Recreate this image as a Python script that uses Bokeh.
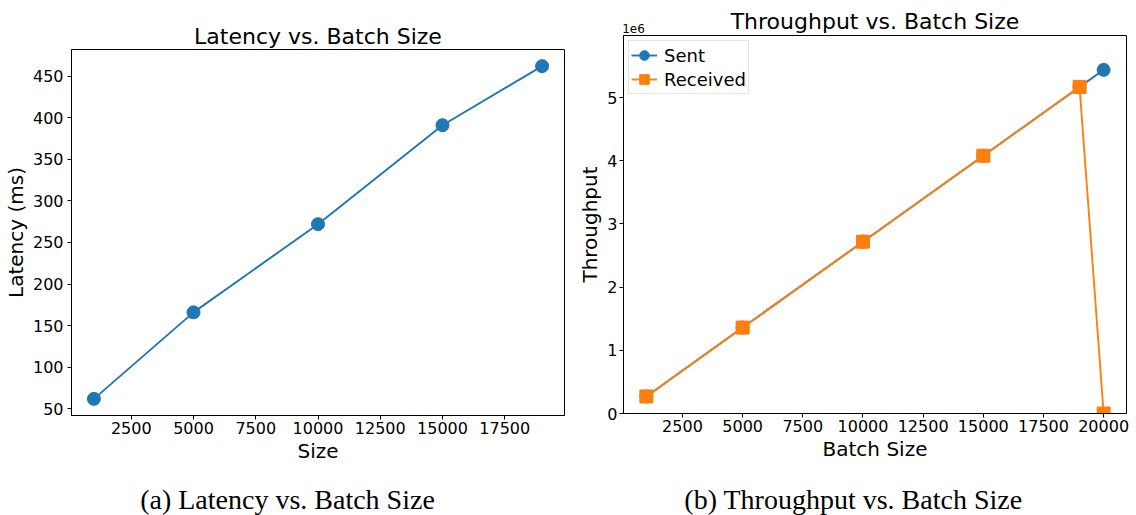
from bokeh.plotting import figure
from bokeh.models import FixedTicker, Range1d, Label, LinearAxis
from bokeh.layouts import row, column
from bokeh.embed import file_html
from bokeh.resources import INLINE

# ---- data ----
lat_sizes = [1000, 5000, 10000, 15000, 19000]
latency_ms = [62, 166, 272, 391, 462]
lat_xticks = [2500, 5000, 7500, 10000, 12500, 15000, 17500]
lat_yticks = [50, 100, 150, 200, 250, 300, 350, 400, 450]

tp_sizes = [1000, 5000, 10000, 15000, 19000, 20000]
sent = [0.27e6, 1.36e6, 2.72e6, 4.08e6, 5.17e6, 5.44e6]
received = [0.27e6, 1.36e6, 2.72e6, 4.08e6, 5.17e6, 0.0]
tp_xticks = [2500, 5000, 7500, 10000, 12500, 15000, 17500, 20000]
tp_yticks = [0, 1e6, 2e6, 3e6, 4e6, 5e6]
tp_ylabels = ["0", "1", "2", "3", "4", "5"]

captions = ["(a) Latency vs. Batch Size", "(b) Throughput vs. Batch Size"]

BLUE = "#1f77b4"
ORANGE = "#ff7f0e"
FONT = "DejaVu Sans"


def pad(vals, frac=0.05):
    lo, hi = min(vals), max(vals)
    d = (hi - lo) * frac
    return lo - d, hi + d


def style_axis(ax, label_standoff=3, axis_label_standoff=2):
    ax.major_tick_out = 4
    ax.major_tick_in = 0
    ax.minor_tick_out = 0
    ax.minor_tick_in = 0
    ax.major_tick_line_color = "black"
    ax.axis_line_color = "black"
    ax.major_label_text_font = FONT
    ax.major_label_text_font_size = "16px"
    ax.major_label_text_color = "black"
    ax.major_label_standoff = label_standoff
    ax.axis_label_text_font = FONT
    ax.axis_label_text_font_size = "20px"
    ax.axis_label_text_font_style = "normal"
    ax.axis_label_text_color = "black"
    ax.axis_label_standoff = axis_label_standoff


def style(p, ytick_standoff, ylab_standoff):
    p.outline_line_color = "black"
    p.outline_line_width = 1
    p.xgrid.visible = False
    p.ygrid.visible = False
    p.background_fill_color = "white"
    p.border_fill_color = "white"
    style_axis(p.xaxis[0], 2, 2)
    style_axis(p.yaxis[0], ytick_standoff, ylab_standoff)


# ---- left: latency ----
x0, x1 = pad(lat_sizes)
y0, y1 = pad(latency_ms)
p1 = figure(width=575, height=465, output_backend="svg", toolbar_location=None,
            x_range=Range1d(x0, x1), y_range=Range1d(y0, y1),
            title="Latency vs. Batch Size", x_axis_label="Size",
            y_axis_label="Latency (ms)")
p1.min_border_left = 70
p1.min_border_right = 11
p1.min_border_top = 49
p1.min_border_bottom = 49
style(p1, 4, 2)
p1.title.text_font = FONT
p1.title.text_font_size = "22px"
p1.title.text_font_style = "normal"
p1.title.text_color = "black"
p1.title.align = "center"
p1.title.standoff = 1
p1.xaxis[0].ticker = FixedTicker(ticks=lat_xticks)
p1.yaxis[0].ticker = FixedTicker(ticks=lat_yticks)
p1.line(lat_sizes, latency_ms, line_color=BLUE, line_width=1.9)
p1.scatter(lat_sizes, latency_ms, marker="circle", size=13, fill_color=BLUE,
           line_color=BLUE)

# ---- right: throughput ----
x0, x1 = pad(tp_sizes)
ytop = max(sent + received) * 1.1
p2 = figure(width=561, height=465, output_backend="svg", toolbar_location=None,
            x_range=Range1d(x0, x1), y_range=Range1d(0, ytop),
            title=None, x_axis_label="Batch Size",
            y_axis_label="Throughput")
p2.min_border_left = 45
p2.min_border_right = 10
p2.min_border_top = 35
p2.min_border_bottom = 52
style(p2, 2, 2)
p2.xaxis[0].ticker = FixedTicker(ticks=tp_xticks)
p2.yaxis[0].ticker = FixedTicker(ticks=tp_yticks)
p2.yaxis[0].major_label_overrides = {t: l for t, l in zip(tp_yticks, tp_ylabels)}

# top axis carries the "1e6" offset text and the panel title
off_tick = x0 + 0.02 * (x1 - x0)
top = LinearAxis(ticker=FixedTicker(ticks=[off_tick]),
                 major_label_overrides={off_tick: "1e6"},
                 axis_label="Throughput vs. Batch Size")
top.axis_line_color = None
top.major_tick_line_color = None
top.major_tick_out = 0
top.major_tick_in = 0
top.minor_tick_out = 0
top.minor_tick_in = 0
top.major_label_text_font = FONT
top.major_label_text_font_size = "12px"
top.major_label_text_color = "black"
top.major_label_standoff = 3
top.axis_label_text_font = FONT
top.axis_label_text_font_size = "22px"
top.axis_label_text_font_style = "normal"
top.axis_label_text_color = "black"
top.axis_label_standoff = -13
p2.add_layout(top, "above")

p2.line(tp_sizes, sent, line_color=BLUE, line_width=1.9, legend_label="Sent")
p2.scatter(tp_sizes, sent, marker="circle", size=13, fill_color=BLUE,
           line_color=BLUE, legend_label="Sent")
p2.line(tp_sizes, received, line_color=ORANGE, line_width=1.9,
        legend_label="Received")
p2.scatter(tp_sizes, received, marker="square", size=13, fill_color=ORANGE,
           line_color=ORANGE, legend_label="Received")
lg = p2.legend[0]
lg.location = "top_left"
lg.label_text_font = FONT
lg.label_text_font_size = "18px"
lg.label_text_color = "black"
lg.border_line_color = "#cccccc"
lg.border_line_width = 1
lg.margin = 5
lg.padding = 2
lg.spacing = 0
lg.glyph_width = 26
lg.glyph_height = 24
lg.label_standoff = 7
lg.label_height = 24

# ---- captions ----
cap = figure(width=1136, height=50, output_backend="svg", toolbar_location=None,
             title=None, x_axis_location=None, y_axis_location=None,
             x_range=Range1d(0, 1136), y_range=Range1d(0, 50))
cap.grid.visible = False
cap.outline_line_color = None
cap.min_border = 0
for cx, txt in zip([287, 853], captions):
    cap.add_layout(Label(x=cx, y=16, text=txt, text_font="Liberation Serif",
                         text_font_size="28px", text_color="black",
                         text_align="center", text_baseline="alphabetic"))

layout = column(row(column(p1), column(p2)), cap)
open("out.html", "w").write(file_html(layout, INLINE))
